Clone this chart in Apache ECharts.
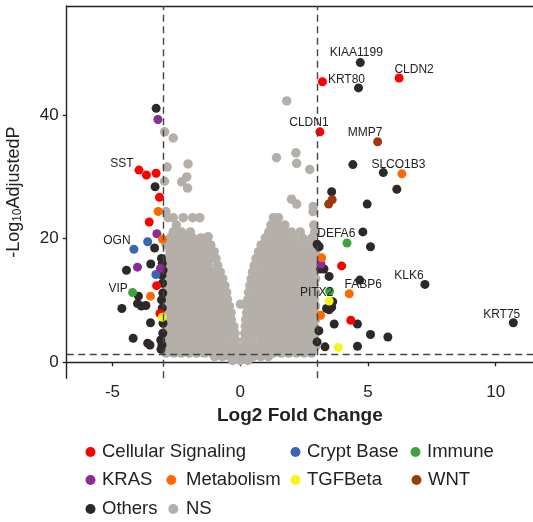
<!DOCTYPE html>
<html><head><meta charset="utf-8">
<script src="https://cdn.jsdelivr.net/npm/echarts@6/dist/echarts.min.js"></script>
<style>html,body{margin:0;padding:0;background:#fff}#c{width:533px;height:522px}</style>
</head><body><div id="c"></div>
<script>
// ---------- DATA ----------
const xTicks = [-5, 0, 5, 10];
const yTicks = [0, 20, 40];
const fcCut = 3;
const pCut = 1.3;

const cellularSignaling = [[-3.96,31.1,'SST'],[-3.67,30.3],[-3.29,30.6],[-3.16,26.7],[-3.56,22.7],[-3.27,12.4],[-3.14,7.9],
  [3.22,45.4,'KRT80'],[6.22,46.0,'CLDN2'],[3.12,37.3,'CLDN1'],[3.97,15.6],[4.33,6.8]];
const cryptBase = [[-3.62,19.5],[-4.16,18.3,'OGN'],[-3.30,14.2]];
const immune = [[-4.21,11.3,'VIP'],[4.18,19.3,'DEFA6'],[3.50,11.5,'PITX2']];
const kras = [[-3.22,39.3],[-3.26,20.8],[-4.02,15.4],[-3.12,15.2],[3.16,15.9]];
const metabolism = [[-3.21,24.4],[-3.04,19.9],[-3.51,10.7],[6.33,30.5,'SLCO1B3'],[3.19,16.9],[4.27,11.1,'FABP6'],[3.15,7.6]];
const tgfBeta = [[-3.05,7.3],[3.48,9.9],[3.84,2.4]];
const wnt = [[5.38,35.7,'MMP7'],[3.60,26.3],[3.46,25.6]];
const others = [
  [-3.29,41.1],[-3.33,28.4],[-3.35,18.5],[-3.08,16.8],[-3.05,16.0],[-3.50,15.9],[-4.45,14.9],[-3.02,14.9],[-3.06,14.1],
  [-3.04,12.8],[-3.03,11.2],[-3.98,10.7],[-3.08,10.1],[-4.02,9.5],[-3.87,9.1],[-3.69,9.2],[-4.63,8.7],[-3.05,8.8],
  [-3.02,6.3],[-3.51,6.4],[-3.03,4.7],[-4.19,3.9],[-3.62,3.1],[-3.53,2.8],[-3.06,2.8],[-3.10,2.1],[-3.11,3.6],
  [4.70,48.5,'KIAA1199'],[4.63,44.4],[4.41,32.0],[5.60,30.7],[6.13,28.0],[3.58,27.6],[4.97,25.6],[4.80,21.1],[5.10,18.7],
  [3.01,19.1],[3.09,18.7],[3.15,15.1],[3.28,15.1],[3.48,13.9],[4.68,13.3],[3.62,9.8],[3.58,8.9],[3.48,8.5],[3.38,8.7],
  [3.68,6.2],[4.59,6.2],[5.10,4.5],[5.78,4.1],[3.08,5.1],[3.01,3.3],[3.32,2.5],[4.59,2.6],
  [7.23,12.6,'KLK6'],[10.69,6.4,'KRT75']
];
// NS cloud: rows of [y, x values]
const nsRows = [
  [0.3,[-0.3,0.0,0.3]],
  [0.9,[-1.0,-0.7,-0.4,-0.1,0.2,0.5,0.8,1.1]],
  [1.5,[-2.9,-2.6,-2.3,-2.0,-1.7,-1.4,-1.1,-0.8,-0.5,-0.2,0.1,0.4,0.7,1.0,1.3,1.6,1.9,2.2,2.5,2.8]],
  [2.5,[-2.75,-2.45,-2.15,-1.85,-1.55,-1.25,-0.95,-0.65,-0.35,-0.12,0.12,0.35,0.65,0.95,1.25,1.55,1.85,2.15,2.45,2.75,2.95]],
  [3.6,[-2.9,-2.6,-2.3,-2.0,-1.7,-1.4,-1.1,-0.8,-0.5,-0.18,0.16,0.45,0.8,1.1,1.4,1.7,2.0,2.3,2.6,2.9]],
  [4.7,[-2.75,-2.45,-2.15,-1.85,-1.55,-1.25,-0.95,-0.65,-0.38,-0.2,0.18,0.4,0.65,0.95,1.25,1.55,1.85,2.15,2.45,2.75,2.95]],
  [5.8,[-2.9,-2.6,-2.3,-2.0,-1.7,-1.4,-1.1,-0.8,-0.5,-0.25,0.2,0.5,0.8,1.1,1.4,1.7,2.0,2.3,2.6,2.9]],
  [6.9,[-2.75,-2.45,-2.15,-1.85,-1.55,-1.25,-0.95,-0.65,-0.35,0.22,0.45,0.65,0.95,1.25,1.55,1.85,2.15,2.45,2.75,2.95]],
  [8.0,[-2.9,-2.6,-2.3,-2.0,-1.7,-1.4,-1.1,-0.8,-0.5,-0.36,0.25,0.5,0.8,1.1,1.4,1.7,2.0,2.3,2.6,2.9]],
  [9.1,[-2.75,-2.45,-2.15,-1.85,-1.55,-1.25,-0.95,-0.65,-0.42,0.27,0.45,0.65,0.95,1.25,1.55,1.85,2.15,2.45,2.75,2.95]],
  [10.2,[-2.9,-2.6,-2.3,-2.0,-1.7,-1.4,-1.1,-0.8,-0.5,0.3,0.5,0.8,1.1,1.4,1.7,2.0,2.3,2.6,2.9]],
  [11.3,[-2.75,-2.45,-2.15,-1.85,-1.55,-1.25,-0.95,-0.65,-0.53,0.33,0.65,0.95,1.25,1.55,1.85,2.15,2.45,2.75,2.95]],
  [12.4,[-2.9,-2.6,-2.3,-2.0,-1.7,-1.4,-1.1,-0.8,-0.6,0.38,0.6,0.8,1.1,1.4,1.7,2.0,2.3,2.6,2.9]],
  [13.5,[-2.75,-2.45,-2.15,-1.85,-1.55,-1.25,-0.95,-0.68,0.43,0.65,0.95,1.25,1.55,1.85,2.15,2.45,2.75,2.95]],
  [14.6,[-2.9,-2.6,-2.3,-2.0,-1.7,-1.4,-1.1,-0.78,0.48,0.8,1.1,1.4,1.7,2.0,2.3,2.6,2.9]],
  [15.7,[-2.75,-2.45,-2.15,-1.85,-1.55,-1.25,-0.88,0.55,0.75,0.95,1.25,1.55,1.85,2.15,2.45,2.75,2.95]],
  [16.8,[-2.9,-2.6,-2.3,-2.0,-1.7,-1.4,-1.1,-0.95,0.62,0.85,1.1,1.4,1.7,2.0,2.3,2.6,2.9]],
  [17.9,[-2.75,-2.45,-2.15,-1.85,-1.55,-1.25,-1.02,0.72,0.95,1.25,1.55,1.85,2.15,2.45,2.75,2.95]],
  [19.0,[-2.9,-2.6,-2.3,-2.0,-1.7,-1.4,-1.15,0.82,1.1,1.4,1.7,2.0,2.3,2.6,2.9]],
  [20.1,[-2.75,-2.45,-2.15,-1.85,-1.55,-1.35,0.98,1.25,1.55,1.85,2.1,2.45,2.8]],
  [21.1,[-2.62,-2.3,-1.95,1.12,1.4,1.68,2.0,2.35,2.92]],
  [22.2,[-2.5,1.2,1.48,1.75,2.88]],
  [23.4,[-2.82,-2.62,-2.23,-1.86,-1.58,1.3,1.5]],
  [24.4,[-2.91,2.85]]
];
const nsSparse = [[-2.96,37.3],[-2.62,36.3],[-2.86,31.6],[-2.96,29.3],[-2.04,32.1],[-2.09,30.0],[-2.29,29.2],[-2.06,28.2],
  [-1.25,20.3],[1.82,42.3],[2.18,33.9],[1.42,33.1],[2.21,32.2],[2.72,31.2],[2.01,26.4],[2.21,25.6],[2.86,25.2],[0.01,9.4]];

// ---------- STYLE ----------
const FONT = "'Liberation Sans', Arial, sans-serif";
const colors = {
  'Cellular Signaling':'#ff0000','Crypt Base':'#3a66b0','Immune':'#3ea33a','KRAS':'#8c2a96',
  'Metabolism':'#ff6a00','TGFBeta':'#f5f51e','WNT':'#9e3a0c','Others':'#2e2929','NS':'#b4afa8'
};
const labelOffsets = {
  KIAA1199:[-4,-9.5], KRT80:[24,-2.5], CLDN2:[15,-8.5], CLDN1:[-11,-9], MMP7:[-12.5,-9], SLCO1B3:[-3.5,-8.7],
  DEFA6:[-10.7,-9.2], FABP6:[14,-9], PITX2:[-13,1], KLK6:[-16,-9], KRT75:[-11.6,-8.5],
  SST:[-17,-6.2], OGN:[-17,-8.5], VIP:[-14.5,-3.9]
};
function toItems(arr){
  return arr.map(d => {
    const it = {value:[d[0], d[1]]};
    if (d[2]) {
      it.name = d[2];
      it.label = {show:true, position:'inside', formatter:d[2], offset:labelOffsets[d[2]],
        color:'#222', fontSize:12, fontFamily:FONT};
    }
    return it;
  });
}
const nsData = [];
nsRows.forEach(r => r[1].forEach(x => nsData.push([x, r[0]])));
nsSparse.forEach(p => nsData.push(p));

const groups = [
  ['NS', nsData, 2, 9.5],
  ['Others', others, 3, 9],
  ['Cellular Signaling', cellularSignaling, 4, 9],
  ['Crypt Base', cryptBase, 4, 9],
  ['Immune', immune, 4, 9],
  ['KRAS', kras, 4, 9],
  ['Metabolism', metabolism, 4, 9],
  ['TGFBeta', tgfBeta, 4, 9],
  ['WNT', wnt, 4, 9]
];
const series = groups.map(g => ({
  name:g[0], type:'scatter', data:toItems(g[1]), z:g[2], symbol:'circle', symbolSize:g[3],
  itemStyle:{color:colors[g[0]], opacity:1}, emphasis:{disabled:true}, silent:true
}));
series.unshift({
  type:'scatter', data:[], z:1, silent:true,
  markLine:{silent:true, symbol:['none','none'], label:{show:false}, animation:false,
    lineStyle:{type:[7,4.5], color:'#444', width:1.4},
    data:[{xAxis:-fcCut},{xAxis:fcCut},{yAxis:pCut}]}
});

// legend layout: [name, iconCenterX, rowCenterY, itemWidth]
const legendPos = [
  ['Cellular Signaling',92,452,13],['Crypt Base',297,452,13],['Immune',417,452,13],
  ['KRAS',92,480,13],['Metabolism',176,480,19.4],['TGFBeta',297,480,13],['WNT',418,480,13],
  ['Others',92,509,13],['NS',176,509,15.4]
];
const legends = legendPos.map(l => ({
  data:[l[0]], left:l[1]-l[3]/2, top:l[2]-10, itemWidth:l[3], itemHeight:10, icon:'circle',
  selectedMode:false, padding:0, itemGap:0,
  textStyle:{fontSize:18.5, color:'#222', fontFamily:FONT, lineHeight:20}
}));

const XMIN = -6.79, XMAX = 11.46, YMIN = -2.59, YMAX = 57.66;
const axisCommon = {
  axisLine:{show:true, lineStyle:{color:'#222', width:1.4}},
  axisTick:{show:true, length:4, lineStyle:{color:'#222', width:1.3}},
  splitLine:{show:false}
};
const chart = echarts.init(document.getElementById('c'), null, {renderer:'canvas'});
chart.setOption({
  animation:false,
  backgroundColor:'#fff',
  grid:{left:66.7, right:0, top:6, bottom:143.7, containLabel:false, outerBoundsMode:'none'},
  legend:legends,
  xAxis:[
    Object.assign({}, axisCommon, {
      type:'value', min:XMIN, max:XMAX, position:'bottom',
      axisTick:{show:true, length:4, customValues:xTicks, lineStyle:{color:'#222', width:1.3}},
      axisLabel:{customValues:xTicks, margin:6, fontSize:17, color:'#222', fontFamily:FONT},
      name:'Log2 Fold Change', nameLocation:'middle', nameGap:22,
      nameTextStyle:{fontSize:19, fontWeight:'bold', color:'#222', fontFamily:FONT}
    }),
    {type:'value', min:XMIN, max:XMAX, position:'top', axisLine:{show:true, onZero:false, lineStyle:{color:'#222', width:1.4}},
      axisTick:{show:false}, axisLabel:{show:false}, splitLine:{show:false}}
  ],
  yAxis:Object.assign({}, axisCommon, {
    type:'value', min:YMIN, max:YMAX,
    axisLine:{show:true, onZero:false, lineStyle:{color:'#222', width:1.4}},
    axisTick:{show:true, length:4, customValues:yTicks, lineStyle:{color:'#222', width:1.3}},
    axisLabel:{customValues:yTicks, margin:8, fontSize:17, color:'#222', fontFamily:FONT},
    name:'-Log{s|10}AdjustedP', nameLocation:'middle', nameGap:43,
    nameTextStyle:{fontSize:18, color:'#222', fontFamily:FONT,
      rich:{s:{fontSize:12, color:'#222', fontFamily:FONT, padding:[8,0,0,0]}}}
  }),
  series:series
});
</script></body></html>
